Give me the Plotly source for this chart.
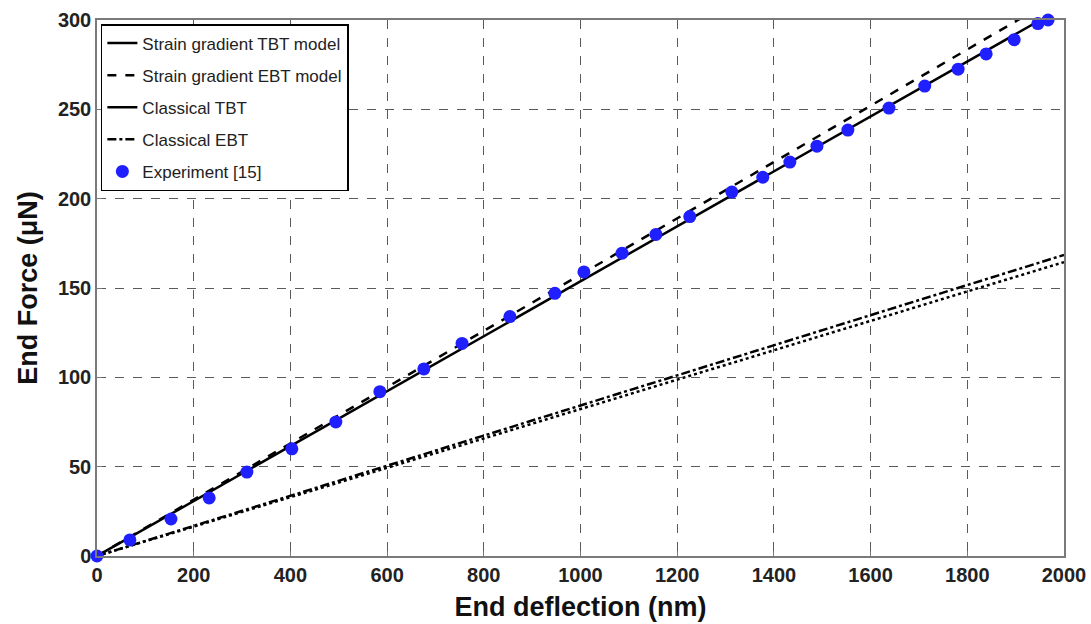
import plotly.graph_objects as go

# Model lines (end points)
line_x = [0, 2000]
sg_tbt_y = [0, 307.5]
sg_ebt_y = [0, 315.0]
cl_tbt_y = [0, 164.5]
cl_ebt_y = [0, 168.5]

# Experiment [15]
exp_x = [0, 68, 153, 232, 310, 403, 494, 585, 676, 755, 854, 947, 1007, 1086,
         1156, 1226, 1313, 1377, 1433, 1489, 1553, 1638, 1712, 1781, 1839, 1897,
         1946, 1967]
exp_y = [0, 9, 20.7, 32.5, 47, 60, 75, 92, 104.7, 119, 134, 147, 159, 169.5,
         180, 190, 203.7, 212, 220.5, 229.4, 238.4, 250.7, 263, 272.5, 281, 289,
         298, 300]

x_ticks = [0, 200, 400, 600, 800, 1000, 1200, 1400, 1600, 1800, 2000]
y_ticks = [0, 50, 100, 150, 200, 250, 300]

fig = go.Figure()
fig.add_trace(go.Scatter(x=line_x, y=sg_tbt_y, mode="lines", name="Strain gradient TBT model",
                         line=dict(color="black", width=2.5), legendgroup="a"))
fig.add_trace(go.Scatter(x=line_x, y=sg_ebt_y, mode="lines", name="Strain gradient EBT model",
                         line=dict(color="black", width=2.5, dash="dash"), legendgroup="b"))
fig.add_trace(go.Scatter(x=line_x, y=cl_tbt_y, mode="lines", name="Classical TBT",
                         line=dict(color="black", width=2.5, dash="dot"), legendgroup="c",
                         showlegend=False))
# legend entry for Classical TBT is drawn solid in the original legend
fig.add_trace(go.Scatter(x=[None], y=[None], mode="lines", name="Classical TBT",
                         line=dict(color="black", width=2.5), legendgroup="c"))
fig.add_trace(go.Scatter(x=line_x, y=cl_ebt_y, mode="lines", name="Classical EBT",
                         line=dict(color="black", width=2.5, dash="dashdot"), legendgroup="d"))
fig.add_trace(go.Scatter(x=exp_x, y=exp_y, mode="markers", name="Experiment [15]",
                         marker=dict(color="#1f1fff", size=13), cliponaxis=False, legendgroup="e"))

axis_common = dict(
    showline=True, linecolor="#7a7a7a", linewidth=1.5, mirror=True,
    showgrid=True, gridcolor="#5a5a5a", gridwidth=1, griddash="dash",
    ticks="inside", ticklen=5, tickcolor="#7a7a7a",
    tickfont=dict(family="Liberation Sans", size=20, color="#222", weight="bold"),
    zeroline=False, automargin=False,
)

fig.update_layout(
    width=1091, height=624,
    margin=dict(l=97, r=27, t=20, b=68),
    paper_bgcolor="white", plot_bgcolor="white",
    font=dict(family="Liberation Sans", color="black"),
    xaxis=dict(range=[0, 2000], tickvals=x_ticks,
               title=dict(text="End deflection (nm)", standoff=12,
                          font=dict(size=27, weight="bold", color="#111")),
               **axis_common),
    yaxis=dict(range=[0, 300], tickvals=y_ticks,
               title=dict(text="End Force (μN)", standoff=12,
                          font=dict(size=27, weight="bold", color="#111")),
               **axis_common),
    legend=dict(x=0.004, y=0.9925, xanchor="left", yanchor="top",
                bgcolor="white", bordercolor="black", borderwidth=1.5,
                font=dict(size=17, color="#222"), tracegroupgap=7,
                traceorder="grouped", entrywidth=240, entrywidthmode="pixels"),
    showlegend=True,
)

fig.write_html("out.html")
